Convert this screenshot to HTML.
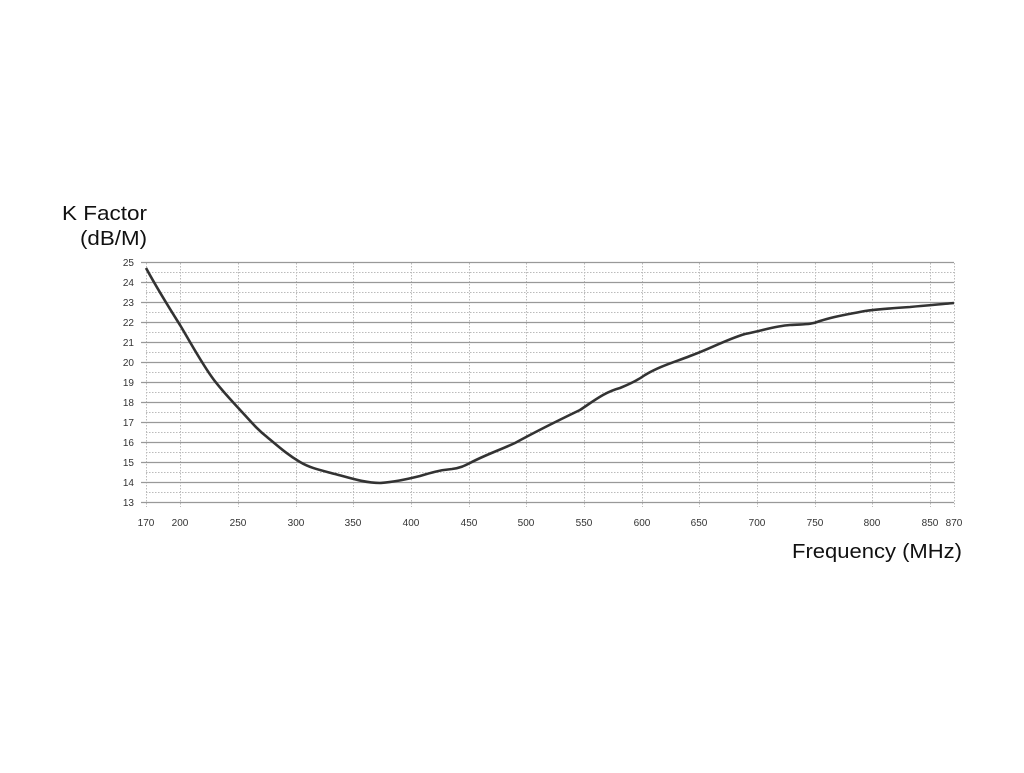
<!DOCTYPE html>
<html><head><meta charset="utf-8"><style>
body{margin:0;background:#fff;width:1024px;height:768px;overflow:hidden}
</style></head><body>
<svg width="1024" height="768" xmlns="http://www.w3.org/2000/svg" font-family="Liberation Sans, sans-serif">
<rect width="1024" height="768" fill="#fff"/>
<g stroke="#bbb" stroke-width="1" stroke-dasharray="1.5,1.5">
<line x1="146" y1="272.5" x2="954" y2="272.5"/><line x1="146" y1="292.5" x2="954" y2="292.5"/><line x1="146" y1="312.5" x2="954" y2="312.5"/><line x1="146" y1="332.5" x2="954" y2="332.5"/><line x1="146" y1="352.5" x2="954" y2="352.5"/><line x1="146" y1="372.5" x2="954" y2="372.5"/><line x1="146" y1="392.5" x2="954" y2="392.5"/><line x1="146" y1="412.5" x2="954" y2="412.5"/><line x1="146" y1="432.5" x2="954" y2="432.5"/><line x1="146" y1="452.5" x2="954" y2="452.5"/><line x1="146" y1="472.5" x2="954" y2="472.5"/><line x1="146" y1="492.5" x2="954" y2="492.5"/>
<line x1="146.5" y1="263" x2="146.5" y2="507"/><line x1="180.5" y1="263" x2="180.5" y2="507"/><line x1="238.5" y1="263" x2="238.5" y2="507"/><line x1="296.5" y1="263" x2="296.5" y2="507"/><line x1="353.5" y1="263" x2="353.5" y2="507"/><line x1="411.5" y1="263" x2="411.5" y2="507"/><line x1="469.5" y1="263" x2="469.5" y2="507"/><line x1="526.5" y1="263" x2="526.5" y2="507"/><line x1="584.5" y1="263" x2="584.5" y2="507"/><line x1="642.5" y1="263" x2="642.5" y2="507"/><line x1="699.5" y1="263" x2="699.5" y2="507"/><line x1="757.5" y1="263" x2="757.5" y2="507"/><line x1="815.5" y1="263" x2="815.5" y2="507"/><line x1="872.5" y1="263" x2="872.5" y2="507"/><line x1="930.5" y1="263" x2="930.5" y2="507"/><line x1="954.5" y1="263" x2="954.5" y2="507"/>
</g>
<g stroke="#999" stroke-width="1.3">
<line x1="141" y1="262.5" x2="954" y2="262.5"/><line x1="141" y1="282.5" x2="954" y2="282.5"/><line x1="141" y1="302.5" x2="954" y2="302.5"/><line x1="141" y1="322.5" x2="954" y2="322.5"/><line x1="141" y1="342.5" x2="954" y2="342.5"/><line x1="141" y1="362.5" x2="954" y2="362.5"/><line x1="141" y1="382.5" x2="954" y2="382.5"/><line x1="141" y1="402.5" x2="954" y2="402.5"/><line x1="141" y1="422.5" x2="954" y2="422.5"/><line x1="141" y1="442.5" x2="954" y2="442.5"/><line x1="141" y1="462.5" x2="954" y2="462.5"/><line x1="141" y1="482.5" x2="954" y2="482.5"/><line x1="141" y1="502.5" x2="954" y2="502.5"/>
</g>
<g font-size="10" fill="#333" text-anchor="end">
<text x="134" y="266">25</text><text x="134" y="286">24</text><text x="134" y="306">23</text><text x="134" y="326">22</text><text x="134" y="346">21</text><text x="134" y="366">20</text><text x="134" y="386">19</text><text x="134" y="406">18</text><text x="134" y="426">17</text><text x="134" y="446">16</text><text x="134" y="466">15</text><text x="134" y="486">14</text><text x="134" y="506">13</text>
</g>
<g font-size="10" fill="#333" text-anchor="middle">
<text x="146" y="526">170</text><text x="180" y="526">200</text><text x="238" y="526">250</text><text x="296" y="526">300</text><text x="353" y="526">350</text><text x="411" y="526">400</text><text x="469" y="526">450</text><text x="526" y="526">500</text><text x="584" y="526">550</text><text x="642" y="526">600</text><text x="699" y="526">650</text><text x="757" y="526">700</text><text x="815" y="526">750</text><text x="872" y="526">800</text><text x="930" y="526">850</text><text x="954" y="526">870</text>
</g>
<text x="62" y="220" font-size="20" fill="#111" textLength="85" lengthAdjust="spacingAndGlyphs">K Factor</text>
<text x="80" y="245" font-size="20" fill="#111" textLength="67" lengthAdjust="spacingAndGlyphs">(dB/M)</text>
<text x="792" y="558" font-size="20" fill="#111" textLength="170" lengthAdjust="spacingAndGlyphs">Frequency (MHz)</text>
<path d="M146,268 C158,290 168,306 180,325 C192,345 202,364 214,380 C224,393 232,401 242,412 C252,423 258,430 267,437 C279,447 288,455 300,462 C310,468 320,470 335,474 C350,478 365,483 380,483 C395,482 408,479 420,476 C430,473 440,470 452,469 C460,468 464,466 470,463 C485,455 500,450 515,443 C535,432 555,422 580,410 C595,400 605,392 620,388 C630,384 638,380 645,375 C660,366 675,362 690,356 C710,349 725,340 745,334 C765,330 775,326 790,325 C805,324 810,325 820,321 C835,316 850,314 865,311 C880,309 895,308 910,307 C930,305 945,304 954,303" fill="none" stroke="#333" stroke-width="2.6" stroke-linejoin="round"/>
</svg>
</body></html>
